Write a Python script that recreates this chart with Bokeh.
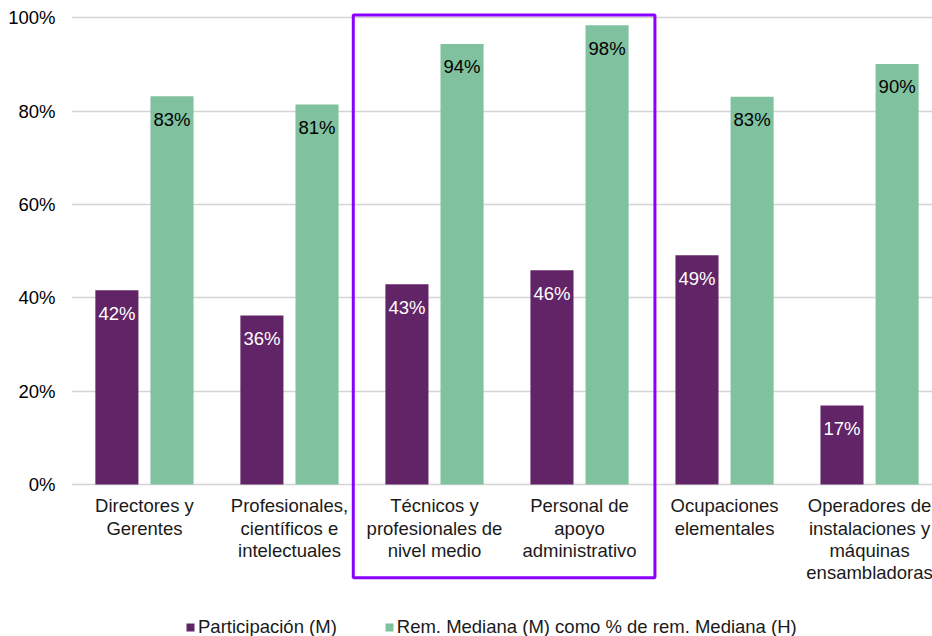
from bokeh.plotting import figure
from bokeh.models import ColumnDataSource, Range1d, FixedTicker, BoxAnnotation, Legend, LegendItem
from bokeh.core.properties import value
from bokeh.embed import file_html
from bokeh.resources import INLINE

categories = ["Directores y\nGerentes",
              "Profesionales,\ncientíficos e\nintelectuales",
              "Técnicos y\nprofesionales de\nnivel medio",
              "Personal de\napoyo\nadministrativo",
              "Ocupaciones\nelementales",
              "Operadores de\ninstalaciones y\nmáquinas\nensambladoras"]
participacion = [41.6, 36.2, 42.9, 45.9, 49.1, 16.9]
rem_mediana = [83.2, 81.4, 94.4, 98.4, 83.1, 90.1]
y_ticks = [0, 20, 40, 60, 80, 100]
series_names = ["Participación (M)", "Rem. Mediana (M) como % de rem. Mediana (H)"]
highlight = [2, 3]  # Técnicos, Personal

PURPLE = "#612466"
GREEN = "#80c19f"
FONT = "Liberation Sans"
FS = "18.5px"

xc = [i + 0.5 for i in range(len(categories))]
off = 0.19
bw = 0.297

src = ColumnDataSource(dict(
    xc=xc,
    xp=[x - off for x in xc],
    xg=[x + off for x in xc],
    p=participacion,
    g=rem_mediana,
    pl=[f"{round(v)}%" for v in participacion],
    gl=[f"{round(v)}%" for v in rem_mediana],
    cat=categories,
    zero=[0] * len(categories),
))

p = figure(width=932, height=636, output_backend="svg", toolbar_location=None,
           x_range=Range1d(-0.003, 5.934), y_range=Range1d(-32.57, 103.7),
           min_border_left=71, min_border_right=0, min_border_top=0, min_border_bottom=0)
p.outline_line_color = None
p.xaxis.visible = False
p.xgrid.visible = False

ya = p.yaxis[0]
ya.ticker = FixedTicker(ticks=y_ticks)
ya.major_label_overrides = {t: f"{t}%" for t in y_ticks}
ya.axis_line_color = None
ya.major_tick_line_color = None
ya.minor_tick_line_color = None
ya.major_tick_out = 0
ya.major_label_standoff = 16
ya.major_label_text_font = FONT
ya.major_label_text_font_size = FS
ya.major_label_text_font_style = "normal"
ya.major_label_text_color = "#000000"

p.ygrid.ticker = FixedTicker(ticks=y_ticks)
p.ygrid.grid_line_color = "#d4d4d4"
p.ygrid.grid_line_width = 1.5

r1 = p.vbar(x="xp", top="p", bottom=0, width=bw, source=src, fill_color=PURPLE, line_color=None)
r2 = p.vbar(x="xg", top="g", bottom=0, width=bw, source=src, fill_color=GREEN, line_color=None)

p.text(x="xp", y="p", text="pl", source=src, text_align="center", text_baseline="middle",
       y_offset=23, text_font=value(FONT), text_font_size=FS, text_color="white")
p.text(x="xg", y="g", text="gl", source=src, text_align="center", text_baseline="middle",
       y_offset=23, text_font=value(FONT), text_font_size=FS, text_color="black")

p.text(x="xc", y="zero", text="cat", source=src, text_align="center", text_baseline="top",
       y_offset=11, text_font=value(FONT), text_font_size=FS, text_color="#1a1a1a",
       text_line_height=1.05)

box = BoxAnnotation(left=min(highlight) - 0.06, right=max(highlight) + 1 + 0.02,
                    bottom=-20.0, top=100.6, fill_alpha=0,
                    line_color="#8a00ff", line_alpha=1.0, line_width=3)
p.add_layout(box)

legend = Legend(items=[LegendItem(label=series_names[0], renderers=[r1]),
                       LegendItem(label=series_names[1], renderers=[r2])],
                orientation="horizontal", location=(114, -2),
                glyph_width=10, glyph_height=10, label_standoff=3, spacing=47,
                padding=0, margin=0, border_line_color=None, background_fill_alpha=0,
                label_text_font=FONT, label_text_font_size=FS, label_text_color="#1a1a1a")
p.add_layout(legend)

open("out.html", "w").write(file_html(p, INLINE))
